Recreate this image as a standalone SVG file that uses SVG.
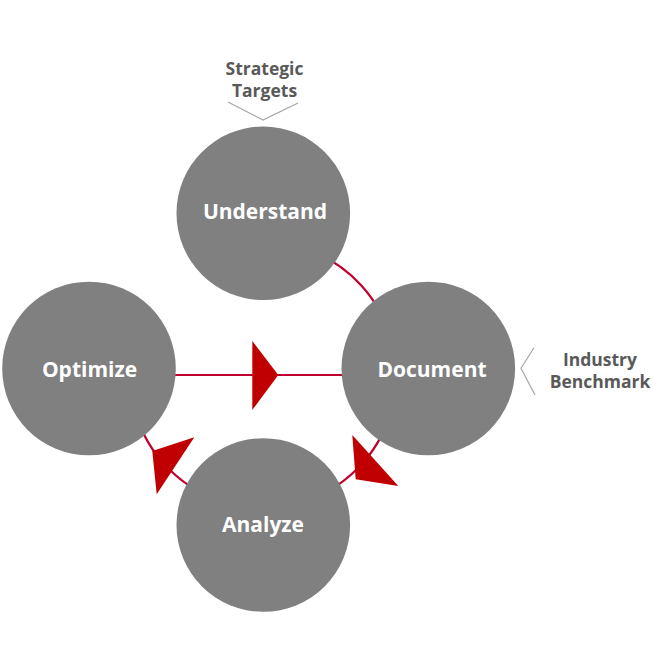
<svg xmlns="http://www.w3.org/2000/svg" width="653" height="653" viewBox="0 0 653 653">
<defs>
<style>
.node{fill:#808080}
.lbl{font-family:"Open Sans","Liberation Sans",sans-serif;font-weight:bold;font-size:21px;fill:#ffffff;text-anchor:middle}
.note{font-family:"Open Sans","Liberation Sans",sans-serif;font-weight:bold;font-size:17.5px;fill:#595959;text-anchor:middle}
.conn{fill:none;stroke:#C0002F;stroke-width:2.2}
.head{fill:#C00000;stroke:none}
.chev{fill:none;stroke:#A6A6A6;stroke-width:1.2}
</style>
</defs>
<rect width="653" height="653" fill="#ffffff"/>
<g id="connectors">
<path class="conn" d="M308.5,250 A133,133 0 0 1 391.5,340.6"/>
<path class="conn" d="M391.5,409.4 A133,133 0 0 1 297.4,503.5"/>
<path class="conn" d="M228.6,503.5 A133,133 0 0 1 134.5,409.4"/>
<line class="conn" x1="160" y1="375" x2="360" y2="375"/>
<polygon class="head" points="252.3,341 252.3,410 278.3,375"/>
<polygon class="head" points="352.3,435 398.3,486 355.7,479.3"/>
<polygon class="head" points="194.3,437.3 156.7,494.3 152.3,451"/>
</g>
<g id="understand">
<circle class="node" cx="263.3" cy="213.3" r="86.8"/>
<text class="lbl" x="265" y="219">Understand</text>
</g>
<g id="optimize">
<circle class="node" cx="89" cy="368.5" r="86.8"/>
<text class="lbl" x="89.5" y="377">Optimize</text>
</g>
<g id="document">
<circle class="node" cx="428.3" cy="368.5" r="86.8"/>
<text class="lbl" x="432" y="377">Document</text>
</g>
<g id="analyze">
<circle class="node" cx="263.3" cy="525" r="86.8"/>
<text class="lbl" x="263" y="532">Analyze</text>
</g>
<g id="strategic-targets">
<text class="note" x="264.5" y="75">Strategic</text>
<text class="note" x="264.5" y="97">Targets</text>
<polyline class="chev" points="228,102 263,120 298,103"/>
</g>
<g id="industry-benchmark">
<text class="note" x="600" y="366">Industry</text>
<text class="note" x="600" y="388">Benchmark</text>
<polyline class="chev" points="534,347.7 521,368.3 535,395"/>
</g>
</svg>
